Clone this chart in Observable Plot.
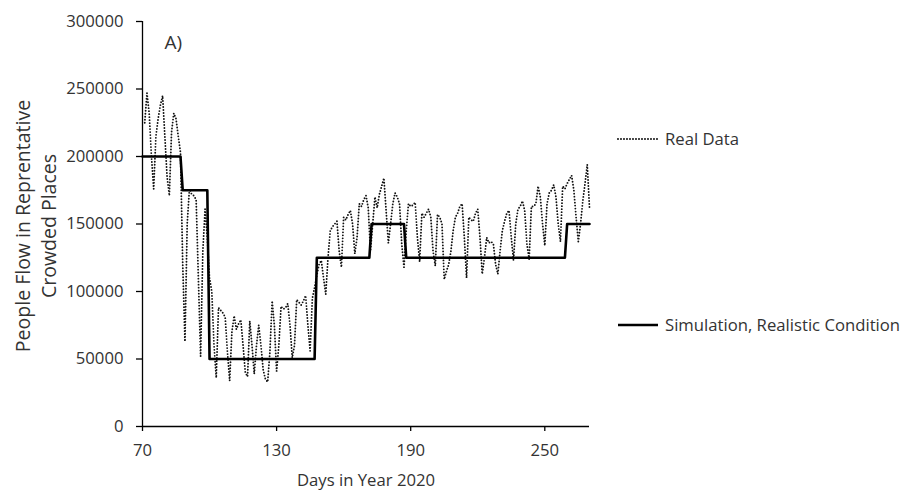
<!DOCTYPE html>
<html><head><meta charset="utf-8">
<script src="https://cdn.jsdelivr.net/npm/d3@7"></script>
<script src="https://cdn.jsdelivr.net/npm/@observablehq/plot@0.6"></script>
<style>
body{margin:0;background:#fff;}
#wrap{position:relative;width:907px;height:496px;font-family:"Open Sans",sans-serif;color:#333;}
.leg{position:absolute;font-size:16.7px;display:flex;align-items:center;white-space:nowrap;line-height:1;}
.leg svg{margin-right:6px;}
</style></head><body><div id="wrap"></div>
<script>
// Real data: daily people flow, starting at day 71
const realStartDay = 71;
const realValues = [
  225000,247000,232000,200000,176000,215000,228000,238000,245000,215000,
  185000,171000,218000,232000,228000,215000,203000,120000,63000,150000,
  176000,172000,171000,168000,110000,52000,130000,161000,140000,110000,
  100000,60000,36000,88000,86000,84000,81000,55000,34000,70000,
  82000,72000,76000,79000,60000,40000,37000,78000,60000,39000,
  60000,75000,60000,42000,35000,33000,55000,93000,75000,41000,
  60000,89000,87000,88000,91000,75000,51000,60000,94000,92000,
  90000,93000,97000,75000,56000,95000,103000,112000,120000,123000,
  110000,98000,125000,145000,148000,150000,152000,130000,118000,155000,
  153000,157000,160000,150000,128000,140000,165000,163000,168000,171000,
  162000,130000,150000,170000,162000,172000,178000,184000,160000,136000,
  150000,165000,173000,170000,165000,135000,118000,145000,165000,163000,
  164000,166000,140000,122000,158000,155000,158000,161000,155000,130000,
  119000,157000,155000,150000,109000,115000,120000,130000,145000,155000,
  158000,163000,165000,140000,110000,155000,153000,152000,158000,161000,
  140000,113000,125000,140000,136000,137000,135000,120000,113000,130000,
  145000,152000,158000,160000,140000,123000,150000,161000,163000,167000,
  160000,135000,124000,163000,163000,165000,178000,170000,150000,134000,
  165000,173000,175000,179000,170000,150000,137000,178000,176000,180000,
  183000,186000,175000,155000,137000,150000,167000,180000,194000,162000
];
const realDays = d3.range(realStartDay, realStartDay + realValues.length);

// Simulation, realistic condition (step profile)
const simDays   = [70, 87, 88, 99, 100, 147, 148, 171.5, 172.5, 187, 188, 259, 260, 270];
const simValues = [200000, 200000, 175000, 175000, 50000, 50000, 125000, 125000, 150000, 150000, 125000, 125000, 150000, 150000];

const xTicks = [70, 130, 190, 250];
const yTicks = [0, 50000, 100000, 150000, 200000, 250000, 300000];
const xLabel = "Days in Year 2020";
const yLabel = "People Flow in Reprentative\nCrowded Places";
const panelLabel = "A)";
const legendLabels = ["Real Data", "Simulation, Realistic Condition"];

const realIdx = d3.range(realValues.length);
const simIdx = d3.range(simValues.length);

const chart = Plot.plot({
  width: 907, height: 496,
  marginLeft: 142, marginRight: 318, marginTop: 21, marginBottom: 70,
  x: {domain: [70, 270]},
  y: {domain: [0, 300000]},
  style: {fontFamily: '"Open Sans", sans-serif', fontSize: "16.7px", color: "#333", background: "white", overflow: "visible"},
  marks: [
    Plot.line(realIdx, {x: i => realDays[i], y: i => realValues[i], stroke: "#111", strokeWidth: 1.9, strokeDasharray: "0,3", strokeLinecap: "round"}),
    Plot.line(simIdx, {x: i => simDays[i], y: i => simValues[i], stroke: "black", strokeWidth: 2.6}),
    Plot.ruleY([0], {stroke: "black", strokeWidth: 1.3}),
    Plot.ruleX([70], {stroke: "black", strokeWidth: 1.3}),
    Plot.axisX({ticks: xTicks, tickSize: 5, tickPadding: 13, label: null, stroke: "black", strokeWidth: 1.3}),
    Plot.axisY({ticks: yTicks, tickSize: 6, tickPadding: 13, tickFormat: d => String(d), label: null, stroke: "black", strokeWidth: 1.3}),
    Plot.text([xLabel], {text: d => d, frameAnchor: "bottom", lineAnchor: "middle", dy: 54}),
    Plot.text([yLabel], {text: d => d, frameAnchor: "left", textAnchor: "middle", lineAnchor: "middle", rotate: -90, dx: -108, dy: 2, lineHeight: 1.37, fontSize: 19.5}),
    Plot.text([panelLabel], {text: d => d, frameAnchor: "top-left", textAnchor: "start", lineAnchor: "middle", dx: 22, dy: 21, fontSize: 19})
  ]
});
const wrap = document.getElementById("wrap");
wrap.appendChild(chart);

function legendItem(label, dashed, top) {
  const div = document.createElement("div");
  div.className = "leg";
  div.style.left = "617px";
  div.style.top = top + "px";
  div.innerHTML = `<svg width="42" height="6"><line x1="1" x2="41" y1="3" y2="3" stroke="black" stroke-width="${dashed ? 1.9 : 2.6}" ${dashed ? 'stroke-dasharray="0,3" stroke-linecap="round"' : ''}/></svg><span>${label}</span>`;
  wrap.appendChild(div);
}
legendItem(legendLabels[0], true, 131);
legendItem(legendLabels[1], false, 317);
</script>
</body></html>
